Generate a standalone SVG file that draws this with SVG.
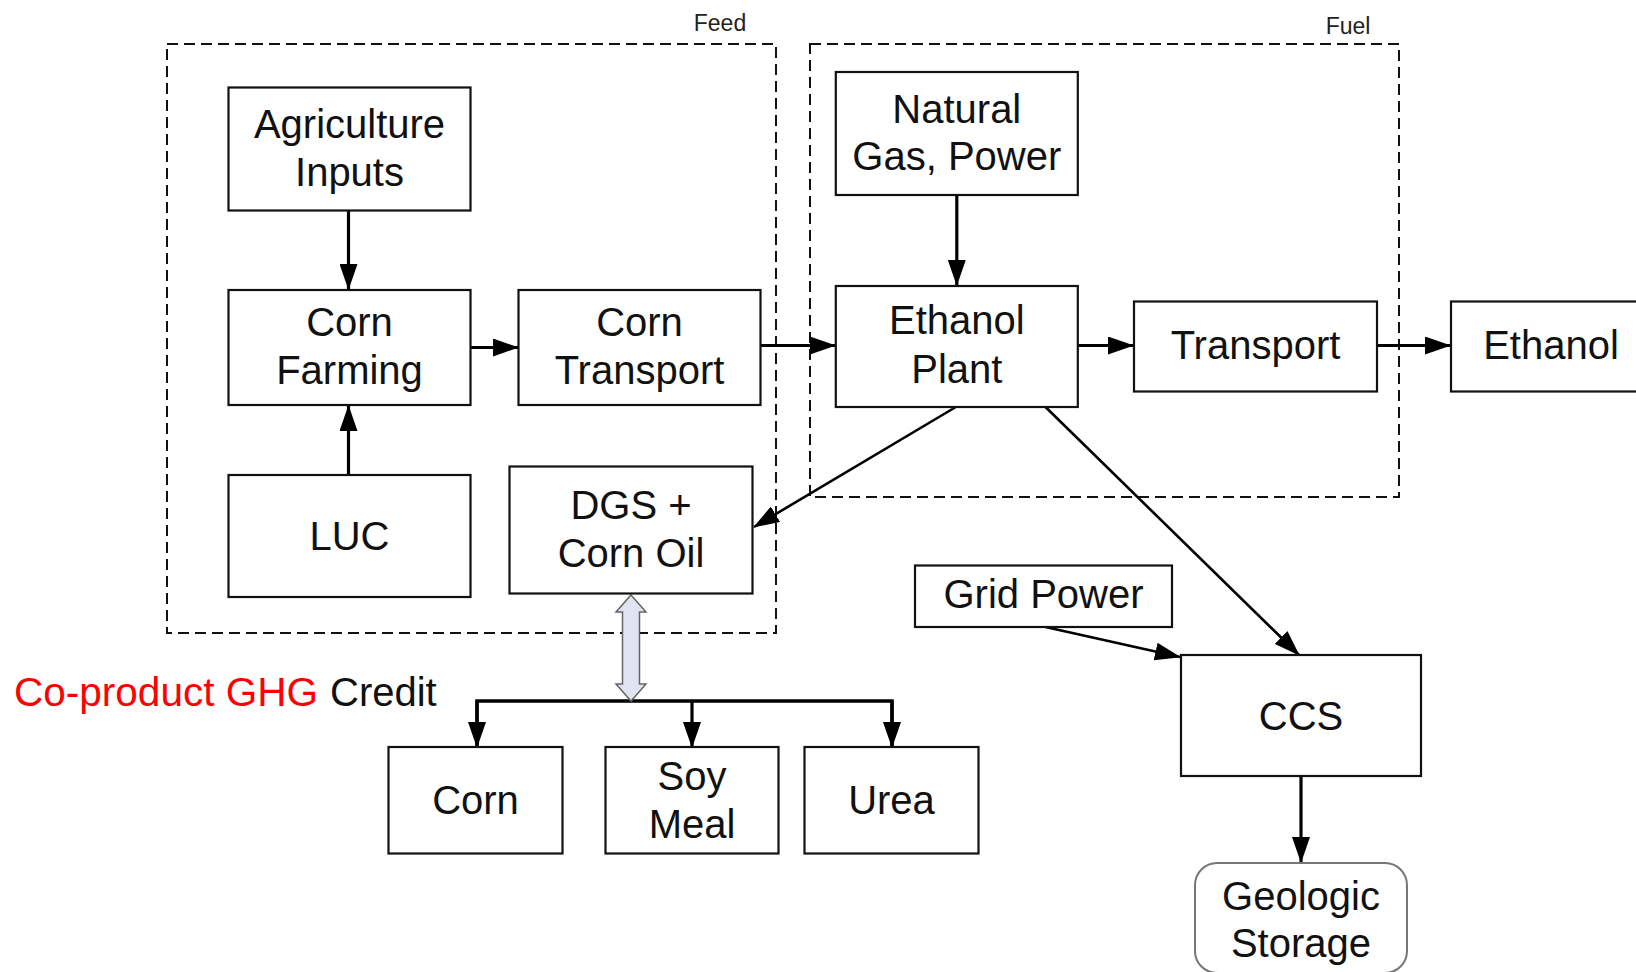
<svg xmlns="http://www.w3.org/2000/svg" width="1636" height="972" viewBox="0 0 1636 972">
<style>
.box{fill:#fff;stroke:#111;stroke-width:2.2}
.grp{fill:none;stroke:#111;stroke-width:2;stroke-dasharray:11 6}
.t{font-family:"Liberation Sans",Arial,sans-serif;font-size:40px;fill:#111;text-anchor:middle}
.s{font-family:"Liberation Sans",Arial,sans-serif;font-size:23px;fill:#222;text-anchor:middle}
.c{fill:none;stroke:#000;stroke-width:3.2}
.cn{fill:none;stroke:#000;stroke-width:2.6}
</style>
<defs>
<marker id="ah" markerUnits="userSpaceOnUse" markerWidth="26" markerHeight="18" refX="25" refY="9" orient="auto" viewBox="0 0 26 18">
<path d="M0,0 L26,9 L0,18 z" fill="#000"/>
</marker>
</defs>
<rect width="1636" height="972" fill="#fff"/>

<g id="feed-group">
<rect class="grp" x="167" y="44" width="609" height="589"/>
<text class="s" x="720" y="31">Feed</text>
</g>
<g id="fuel-group">
<rect class="grp" x="810" y="44" width="589" height="453"/>
<text class="s" x="1348" y="34">Fuel</text>
</g>

<g id="connectors">
<line class="c" x1="348.5" y1="211" x2="348.5" y2="289" marker-end="url(#ah)"/>
<line class="c" x1="348.5" y1="475" x2="348.5" y2="406" marker-end="url(#ah)"/>
<line class="c" x1="471" y1="347.5" x2="518" y2="347.5" marker-end="url(#ah)"/>
<line class="c" x1="761" y1="345.5" x2="835" y2="345.5" marker-end="url(#ah)"/>
<line class="c" x1="956.8" y1="195" x2="956.8" y2="285" marker-end="url(#ah)"/>
<line class="c" x1="1078" y1="345.5" x2="1133" y2="345.5" marker-end="url(#ah)"/>
<line class="c" x1="1377" y1="345.5" x2="1450" y2="345.5" marker-end="url(#ah)"/>
<line class="cn" x1="955.8" y1="407" x2="754" y2="527" marker-end="url(#ah)"/>
<line class="cn" x1="1045.5" y1="407" x2="1299" y2="655" marker-end="url(#ah)"/>
<line class="cn" x1="1045.5" y1="627" x2="1180" y2="657" marker-end="url(#ah)"/>
<line class="c" x1="1301" y1="776" x2="1301" y2="862" marker-end="url(#ah)"/>
<polyline class="c" points="477,747 477,701 892,701 892,747" style="stroke-width:3.5"/>
<line class="c" x1="477" y1="701" x2="477" y2="747" marker-end="url(#ah)"/>
<line class="c" x1="692" y1="701" x2="692" y2="747" marker-end="url(#ah)"/>
<line class="c" x1="892" y1="701" x2="892" y2="747" marker-end="url(#ah)"/>
<polygon points="631,595 646,612 639.5,612 639.5,684 646,684 631,701 616,684 622.5,684 622.5,612 616,612" fill="#dfe5f0" stroke="#666" stroke-width="1.5"/>
</g>

<g id="agriculture-inputs">
<rect class="box" x="228.5" y="87.5" width="242" height="123"/>
<text class="t" x="349.5" y="137.5">Agriculture</text>
<text class="t" x="349.5" y="185.5">Inputs</text>
</g>
<g id="corn-farming">
<rect class="box" x="228.5" y="290" width="242" height="115"/>
<text class="t" x="349.5" y="336">Corn</text>
<text class="t" x="349.5" y="384">Farming</text>
</g>
<g id="corn-transport">
<rect class="box" x="518.5" y="290" width="242" height="115"/>
<text class="t" x="639.5" y="336">Corn</text>
<text class="t" x="639.5" y="384">Transport</text>
</g>
<g id="luc">
<rect class="box" x="228.5" y="475" width="242" height="122"/>
<text class="t" x="349.5" y="550">LUC</text>
</g>
<g id="dgs-corn-oil">
<rect class="box" x="509.5" y="466.5" width="243" height="127"/>
<text class="t" x="631" y="518.5">DGS +</text>
<text class="t" x="631" y="566.5">Corn Oil</text>
</g>
<g id="natural-gas-power">
<rect class="box" x="835.8" y="72" width="242" height="123"/>
<text class="t" x="956.8" y="123">Natural</text>
<text class="t" x="956.8" y="170">Gas, Power</text>
</g>
<g id="ethanol-plant">
<rect class="box" x="835.8" y="286" width="242" height="121"/>
<text class="t" x="956.8" y="334">Ethanol</text>
<text class="t" x="956.8" y="383">Plant</text>
</g>
<g id="transport">
<rect class="box" x="1134" y="301.5" width="243" height="90"/>
<text class="t" x="1255.5" y="359">Transport</text>
</g>
<g id="ethanol">
<rect class="box" x="1451" y="301.5" width="210" height="90"/>
<text class="t" x="1551" y="359">Ethanol</text>
</g>
<g id="grid-power">
<rect class="box" x="915" y="565.5" width="257" height="61.5"/>
<text class="t" x="1043.5" y="608">Grid Power</text>
</g>
<g id="ccs">
<rect class="box" x="1181" y="655" width="240" height="121"/>
<text class="t" x="1301" y="730">CCS</text>
</g>
<g id="geologic-storage">
<rect x="1195" y="863" width="212" height="110" rx="22" fill="#fff" stroke="#777" stroke-width="2"/>
<text class="t" x="1301" y="910">Geologic</text>
<text class="t" x="1301" y="957">Storage</text>
</g>
<g id="corn">
<rect class="box" x="388.5" y="747" width="174" height="106.5"/>
<text class="t" x="475.5" y="814">Corn</text>
</g>
<g id="soy-meal">
<rect class="box" x="605.5" y="747" width="173" height="106.5"/>
<text class="t" x="692" y="790">Soy</text>
<text class="t" x="692" y="838">Meal</text>
</g>
<g id="urea">
<rect class="box" x="804.5" y="747" width="174" height="106.5"/>
<text class="t" x="891.5" y="814">Urea</text>
</g>

<g id="credit-label">
<text x="14" y="706" font-family="Liberation Sans, Arial, sans-serif" font-size="40" fill="#ff0000" textLength="304" lengthAdjust="spacingAndGlyphs">Co-product GHG</text>
<text x="330" y="706" font-family="Liberation Sans, Arial, sans-serif" font-size="40" fill="#111">Credit</text>
</g>
</svg>
